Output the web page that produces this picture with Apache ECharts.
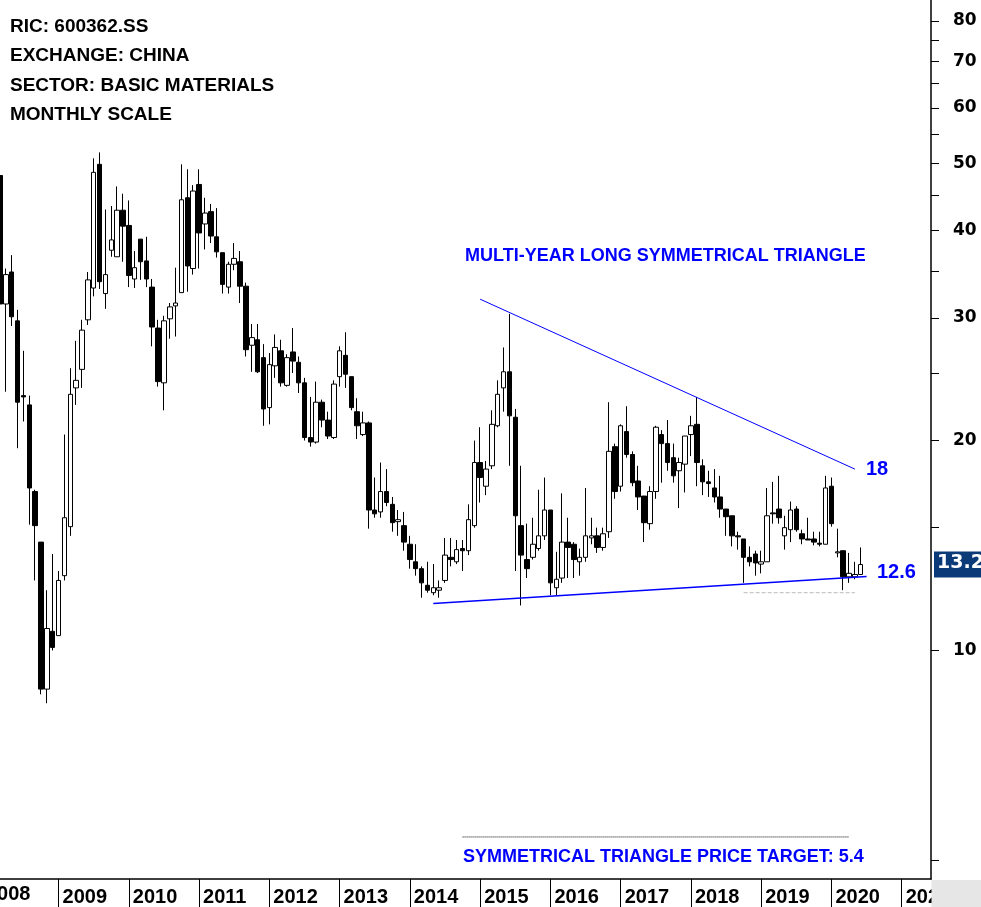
<!DOCTYPE html>
<html><head><meta charset="utf-8">
<script src="https://cdn.jsdelivr.net/npm/echarts@6/dist/echarts.min.js"></script>
<style>html,body{margin:0;padding:0;background:#fff}#c{width:981px;height:907px}</style>
</head><body><div id="c"></div>
<script>
// monthly candles from Mar 2008, [open, close, low, high]
const opens  = [48.0,31.4,34.9,29.7,23.2,22.5,16.9,14.3,8.8,10.65,10.5,12.8,15.05,23.8,25.3,29.8,33.1,49.8,32.5,37.5,36.7,42.8,40.7,34.1,38.9,36.2,33.2,29.0,
24.2,29.9,31.2,32.6,44.6,35.3,46.6,40.9,42.6,39.2,37.2,33.2,35.8,36.1,33.3,27.4,27.9,26.3,22.3,25.6,26.9,24.0,26.8,25.9,24.2,20.2,19.9,22.7,21.4,20.2,24.7,26.5,24.7,22.0,20.4,21.2,15.9,15.8,16.9,16.2,15.3,15.1,14.2,13.4,13.1,12.4,12.1,12.2,12.6,13.6,13.4,14.0,13.9,15.1,18.6,17.2,18.4,21.0,23.8,25.1,21.6,15.1,13.5,13.6,14.0,14.6,15.9,12.3,12.7,14.3,14.2,13.4,13.6,14.5,14.6,14.05,14.8,19.6,17.2,20.6,19.1,17.5,16.65,15.2,16.9,20.4,19.8,18.9,18.1,18.5,20.4,21.1,18.4,17.45,17.1,16.6,15.95,15.6,14.6,14.45,13.6,13.75,13.3,13.4,15.75,15.95,14.6,14.9,15.95,14.7,14.45,14.45,14.25,14.2,17.2,13.8,13.9,12.75,12.75,12.85];
const closes = [31.4,34.6,30.1,22.7,23.1,17.1,15.1,8.8,10.75,10.1,12.6,15.5,23.3,24.4,28.8,34.0,48.5,33.8,34.6,38.8,42.8,40.6,34.5,35.4,36.1,34.1,29.1,24.3,
29.7,31.1,31.5,44.3,35.6,45.6,39.7,42.4,39.3,37.3,33.5,35.8,36.5,33.3,27.0,28.1,25.1,22.2,25.7,27.2,24.2,26.3,26.0,24.2,20.2,19.9,22.7,21.4,20.3,24.1,26.9,24.9,22.3,21.0,21.2,15.9,15.7,16.9,16.3,15.25,15.4,14.3,13.5,13.1,12.5,12.2,12.3,12.3,13.7,13.5,13.95,13.9,15.4,18.6,17.7,18.2,21.1,23.3,25.1,21.7,15.6,13.7,13.1,14.2,14.6,15.9,12.5,12.65,14.3,14.05,13.5,13.6,14.6,14.6,14.05,14.7,19.3,16.9,21.0,19.1,17.4,16.6,15.25,16.9,20.9,19.8,18.6,17.8,18.6,20.3,21.0,18.6,17.45,17.35,16.6,15.95,15.55,14.6,14.55,13.6,13.4,13.35,13.4,15.6,15.7,15.5,15.0,15.9,14.9,14.45,14.4,14.3,14.2,17.1,15.2,13.85,12.75,12.9,12.85,13.28];
const lows   = [31.0,23.5,29.2,19.5,21.3,15.15,12.6,8.65,8.4,10.0,10.5,12.6,14.6,22.5,23.8,29.3,32.2,33.0,30.9,36.7,36.7,36.1,33.2,33.1,34.0,33.2,27.3,23.9,
22.1,28.0,28.2,32.6,32.7,34.6,35.3,37.6,38.4,36.6,32.5,32.5,35.1,31.5,26.4,25.1,25.0,21.0,21.1,24.6,23.9,23.9,25.0,23.4,20.0,19.6,19.8,20.9,20.1,20.1,23.9,23.8,22.1,20.1,20.3,14.95,15.5,15.5,16.1,14.8,14.6,13.9,13.1,12.8,11.9,12.1,12.0,11.9,12.5,13.2,13.3,13.0,13.7,15.0,16.3,16.7,18.2,20.9,22.0,18.4,13.0,11.6,12.7,13.5,13.9,14.4,12.0,12.0,12.5,12.7,12.7,12.8,13.4,14.2,13.8,13.9,14.5,16.5,16.9,18.9,17.2,15.9,14.3,14.9,16.5,17.4,18.1,17.4,16.0,16.85,19.0,17.2,16.7,16.6,16.3,15.5,14.6,14.1,13.95,12.5,13.2,12.8,12.9,13.4,15.2,15.2,13.95,14.3,14.8,14.2,14.4,14.15,14.1,14.2,15.05,13.6,12.2,12.5,12.65,12.85];
const highs  = [49.5,35.3,36.9,30.8,26.9,23.2,17.0,14.3,12.2,13.75,13.0,20.4,25.4,27.8,29.8,34.9,50.8,51.8,42.9,43.4,46.3,45.2,44.2,37.4,38.9,39.2,34.1,29.8,
30.2,31.5,35.4,49.8,49.0,46.5,49.0,44.6,43.7,43.1,37.2,36.1,38.4,37.4,33.7,29.4,29.4,27.5,26.7,28.4,27.9,26.6,29.0,26.4,24.6,23.1,24.3,22.9,22.0,24.4,27.3,28.6,24.7,23.0,22.0,21.3,17.7,18.6,18.2,16.6,15.9,15.8,14.6,14.2,13.2,13.4,13.3,12.6,14.5,14.5,14.4,14.4,16.2,20.0,20.9,18.7,22.1,24.4,27.2,30.4,22.2,18.4,15.2,15.5,17.0,17.7,15.9,13.85,16.8,15.5,14.3,14.0,17.1,15.5,15.0,15.0,22.7,19.8,21.1,22.4,19.3,18.4,16.65,17.2,21.0,20.7,21.4,19.8,18.9,20.3,21.7,23.1,18.8,18.1,18.2,17.8,15.95,15.6,14.8,14.45,14.1,13.9,13.9,17.1,17.45,17.8,15.6,16.35,16.1,14.9,15.5,14.8,14.8,17.8,17.7,14.95,13.9,13.8,13.4,14.05];
const yTicks = [5,10,15,20,25,30,35,40,45,50,55,60,65,70,75,80];
const yLabels = [10,20,30,40,50,60,70,80];
const upperLine = [[82,31.9],[146,18.2]];
const lowerLine = [[74,11.68],[148,12.77]];
const supportDash = [[127,12.1],[146,12.1]];
const targetLine = [[79,5.4],[145,5.4]];
const lastPrice = 13.28;

const cats = [];
for (let i = 0; i < 160; i++) { const m = 2 + i; cats.push((2008 + Math.floor(m / 12)) + '-' + String(m % 12 + 1).padStart(2, '0')); }
const candles = opens.map((o, i) => [o, closes[i], lows[i], highs[i]]);
const isJan = (i) => cats[i].endsWith('-01');
const F = '"Liberation Sans",sans-serif';
const lineS = (d, color, type, w) => ({type:'line', data:d, symbol:'none', silent:true, lineStyle:{color:color, width:w, type:type}, z:3});

const chart = echarts.init(document.getElementById('c'), null, {renderer:'canvas'});
chart.setOption({
  animation:false, backgroundColor:'#fff',
  grid:{left:0, right:50, top:0, bottom:28, containLabel:false},
  xAxis:{type:'category', data:cats, boundaryGap:false,
    axisLine:{lineStyle:{color:'#000', width:1.5}},
    axisTick:{interval:(i)=>isJan(i), length:28, lineStyle:{color:'#000'}},
    axisLabel:{interval:(i)=>isJan(i), formatter:(v)=>v.slice(0,4), align:'left', padding:[0,0,0,4], margin:8,
      color:'#000', fontFamily:F, fontWeight:'bold', fontSize:20},
    splitLine:{show:false}},
  yAxis:{type:'log', logBase:10, position:'right', min:4.7, max:85.7,
    axisLine:{show:true, lineStyle:{color:'#000', width:1.5}},
    axisTick:{show:true, customValues:yTicks, length:8, lineStyle:{color:'#000'}},
    axisLabel:{customValues:yLabels, margin:22, color:'#000', fontFamily:'"DejaVu Sans",sans-serif', fontWeight:'bold', fontSize:17},
    splitLine:{show:false}},
  series:[
    {type:'candlestick', data:candles, barWidth:5, z:2,
     itemStyle:{color:'#fff', color0:'#000', borderColor:'#000', borderColor0:'#000', borderWidth:1}},
    lineS(upperLine,'#0000ff','solid',1),
    lineS(lowerLine,'#0000ff','solid',1.5),
    lineS(supportDash,'#bbbbbb','dashed',1),
    lineS(targetLine,'#000','dotted',1)
  ],
  graphic:[
    {type:'rect', shape:{x:931.5,y:880,width:50,height:27}, style:{fill:'#e6e6e6'}, z:100},
    {type:'text', left:-14, top:884, style:{text:'2008', font:'bold 20px '+F, fill:'#000'}},
    {type:'text', left:10, top:12, style:{text:'RIC: 600362.SS\nEXCHANGE: CHINA\nSECTOR: BASIC MATERIALS\nMONTHLY SCALE', font:'bold 19px '+F, fill:'#000', lineHeight:29.5}},
    {type:'text', left:465, top:247, style:{text:'MULTI-YEAR LONG SYMMETRICAL TRIANGLE', font:'bold 18px '+F, fill:'#0000ff'}},
    {type:'text', left:866, top:459, style:{text:'18', font:'bold 20px '+F, fill:'#0000ff'}},
    {type:'text', left:877, top:562, style:{text:'12.6', font:'bold 20px '+F, fill:'#0000ff'}},
    {type:'text', left:463, top:848, style:{text:'SYMMETRICAL TRIANGLE PRICE TARGET: 5.4', font:'bold 18px '+F, fill:'#0000ff'}}
  ]
});
const py = chart.convertToPixel({yAxisIndex:0}, lastPrice);
chart.setOption({graphic:[
  {type:'rect', id:'pb', shape:{x:934, y:py-13, width:50, height:26}, style:{fill:'#0a3a78'}, z:10},
  {type:'text', id:'pt', left:937, top:py-11, style:{text:String(lastPrice), font:'bold 19px "DejaVu Sans",sans-serif', fill:'#fff'}, z:11}
]});
</script></body></html>
